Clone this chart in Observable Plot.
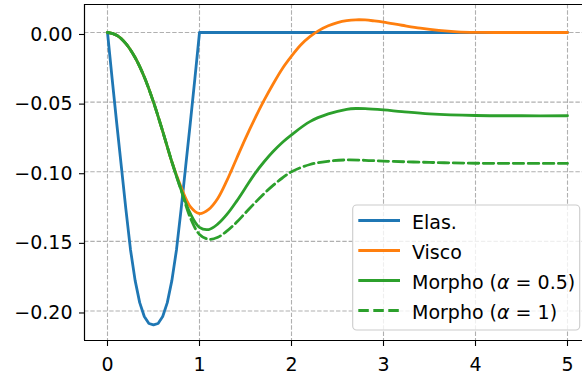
<!DOCTYPE html>
<html>
<head>
<meta charset="utf-8">
<script src="https://cdn.jsdelivr.net/npm/d3@7"></script>
<script src="https://cdn.jsdelivr.net/npm/@observablehq/plot@0.6"></script>
<style>
  html, body { margin: 0; padding: 0; background: white; }
  #chart svg { display: block; }
</style>
</head>
<body>
<div id="chart"></div>
<script>
// ---- data ----
const xTicks = [0, 1, 2, 3, 4, 5];
const yTicks = [0, -0.05, -0.10, -0.15, -0.20];

const tElas = [0, 0.05, 0.1, 0.15, 0.2, 0.25, 0.3, 0.35, 0.4, 0.45, 0.5, 0.55, 0.6, 0.65, 0.7, 0.75, 0.8, 0.85, 0.9, 0.95, 1.0, 5.0];
const elas  = [0, -0.033, -0.065, -0.096, -0.127, -0.156, -0.178, -0.194, -0.204, -0.209, -0.210, -0.209, -0.204, -0.194, -0.178, -0.156, -0.127, -0.096, -0.065, -0.033, 0, 0];

const tVisco = [0, 0.1, 0.2, 0.3, 0.4, 0.5, 0.6, 0.7, 0.8, 0.9, 1.0, 1.1, 1.2, 1.3, 1.4, 1.5, 1.6, 1.7, 1.8, 1.9, 2.0, 2.1, 2.2, 2.3, 2.4, 2.5, 2.6, 2.7, 2.8, 2.9, 3.0, 3.2, 3.4, 3.6, 3.8, 4.0, 4.5, 5.0];
const visco  = [0, -0.002, -0.008, -0.018, -0.032, -0.050, -0.071, -0.093, -0.111, -0.125, -0.130, -0.127, -0.119, -0.106, -0.091, -0.076, -0.062, -0.049, -0.037, -0.026, -0.017, -0.009, -0.003, 0.0015, 0.0048, 0.0071, 0.0085, 0.0091, 0.009, 0.0083, 0.0074, 0.0052, 0.0031, 0.0015, 0.0005, 0.0001, 0, 0];

const tMorpho05 = [0, 0.1, 0.2, 0.3, 0.4, 0.5, 0.6, 0.7, 0.8, 0.9, 1.0, 1.1, 1.2, 1.3, 1.4, 1.5, 1.6, 1.7, 1.8, 1.9, 2.0, 2.2, 2.4, 2.6, 2.7, 2.8, 3.0, 3.2, 3.5, 4.0, 4.5, 5.0];
const morpho05  = [0, -0.002, -0.008, -0.018, -0.032, -0.050, -0.071, -0.093, -0.113, -0.130, -0.140, -0.1415, -0.1375, -0.1305, -0.1215, -0.1115, -0.1015, -0.093, -0.0855, -0.079, -0.0735, -0.064, -0.0585, -0.0552, -0.0546, -0.0547, -0.0556, -0.0568, -0.0584, -0.0596, -0.0598, -0.0598];

const tMorpho1 = [0, 0.1, 0.2, 0.3, 0.4, 0.5, 0.6, 0.7, 0.8, 0.9, 1.0, 1.1, 1.2, 1.3, 1.4, 1.5, 1.6, 1.7, 1.8, 1.9, 2.0, 2.2, 2.4, 2.6, 2.8, 3.0, 3.5, 4.0, 4.5, 5.0];
const morpho1  = [0, -0.002, -0.008, -0.018, -0.032, -0.050, -0.071, -0.093, -0.113, -0.133, -0.145, -0.1485, -0.147, -0.1425, -0.1365, -0.1295, -0.1225, -0.1158, -0.1098, -0.1045, -0.1000, -0.0948, -0.0925, -0.0915, -0.0918, -0.0924, -0.0933, -0.0939, -0.094, -0.094];

const seriesNames = ["Elas.", "Visco", "Morpho (α = 0.5)", "Morpho (α = 1)"];

// ---- build table ----
const toRows = (ts, vs, name) => ts.map((t, i) => ({t, v: vs[i], name}));
const rowsElas = toRows(tElas, elas, seriesNames[0]);
const rowsVisco = toRows(tVisco, visco, seriesNames[1]);
const rowsM05 = toRows(tMorpho05, morpho05, seriesNames[2]);
const rowsM1 = toRows(tMorpho1, morpho1, seriesNames[3]);

const colors = ["#1f77b4", "#ff7f0e", "#2ca02c", "#2ca02c"];
const dashes = [null, null, null, "10.5,4.5"];
const xDom = [-0.25, 5.163];
const yDom = [-0.2212, 0.0201];
const gridStyle = {stroke: "#b0b0b0", strokeOpacity: 1, strokeWidth: 1.1, strokeDasharray: "4.4,1.9"};
const LW = 2.8;

const chart = Plot.plot({
  width: 582,
  height: 374,
  marginLeft: 84,
  marginRight: 0,
  marginTop: 4,
  marginBottom: 34,
  x: {domain: xDom, label: null},
  y: {domain: yDom, label: null},
  style: {fontFamily: "DejaVu Sans", fontSize: "19px", color: "black", background: "white", overflow: "visible"},
  marks: [
    Plot.gridX(xTicks, gridStyle),
    Plot.gridY(yTicks, gridStyle),
    Plot.line(rowsElas, {x: "t", y: "v", stroke: colors[0], strokeWidth: LW, curve: "linear"}),
    Plot.line(rowsVisco, {x: "t", y: "v", stroke: colors[1], strokeWidth: LW, curve: "catmull-rom"}),
    Plot.line(rowsM05, {x: "t", y: "v", stroke: colors[2], strokeWidth: LW, curve: "catmull-rom"}),
    Plot.line(rowsM1, {x: "t", y: "v", stroke: colors[3], strokeWidth: LW, curve: "catmull-rom", strokeDasharray: dashes[3]}),
    Plot.ruleX([xDom[0]], {stroke: "black", strokeWidth: 1.2}),
    Plot.ruleY([yDom[0], yDom[1]], {stroke: "black", strokeWidth: 1.2}),
    Plot.axisX({ticks: xTicks, tickSize: 6, tickPadding: 11, tickFormat: d => String(d), strokeWidth: 1.1, label: null}),
    Plot.axisY({ticks: yTicks, tickSize: 5, tickPadding: 7, tickFormat: d3.format(".2f"), strokeWidth: 1.1, dy: 2, label: null})
  ]
});
document.getElementById("chart").appendChild(chart);

// ---- legend ----
const svg = d3.select(chart);
const lg = svg.append("g")
  .attr("font-family", "DejaVu Sans").attr("font-size", 19)
  .attr("fill", "black").attr("text-anchor", "start");
lg.append("rect")
  .attr("x", 352.7).attr("y", 205).attr("width", 227).attr("height", 125)
  .attr("rx", 4).attr("ry", 4)
  .attr("fill", "white").attr("fill-opacity", 0.8)
  .attr("stroke", "#cccccc").attr("stroke-width", 1.1);
seriesNames.forEach((name, i) => {
  const cy = 220.5 + 30 * i;
  lg.append("line")
    .attr("x1", 358.3).attr("x2", 400).attr("y1", cy).attr("y2", cy)
    .attr("stroke", colors[i]).attr("stroke-width", LW)
    .attr("stroke-dasharray", dashes[i]);
  const txt = lg.append("text").attr("x", 412).attr("y", cy + 8.3).attr("text-anchor", "start");
  const m = name.match(/^(.*\()α( = .*)$/);
  if (m) {
    txt.append("tspan").text(m[1]);
    txt.append("tspan").attr("font-style", "italic").text("α");
    txt.append("tspan").text(m[2]);
  } else {
    txt.text(name);
  }
});
</script>
</body>
</html>
